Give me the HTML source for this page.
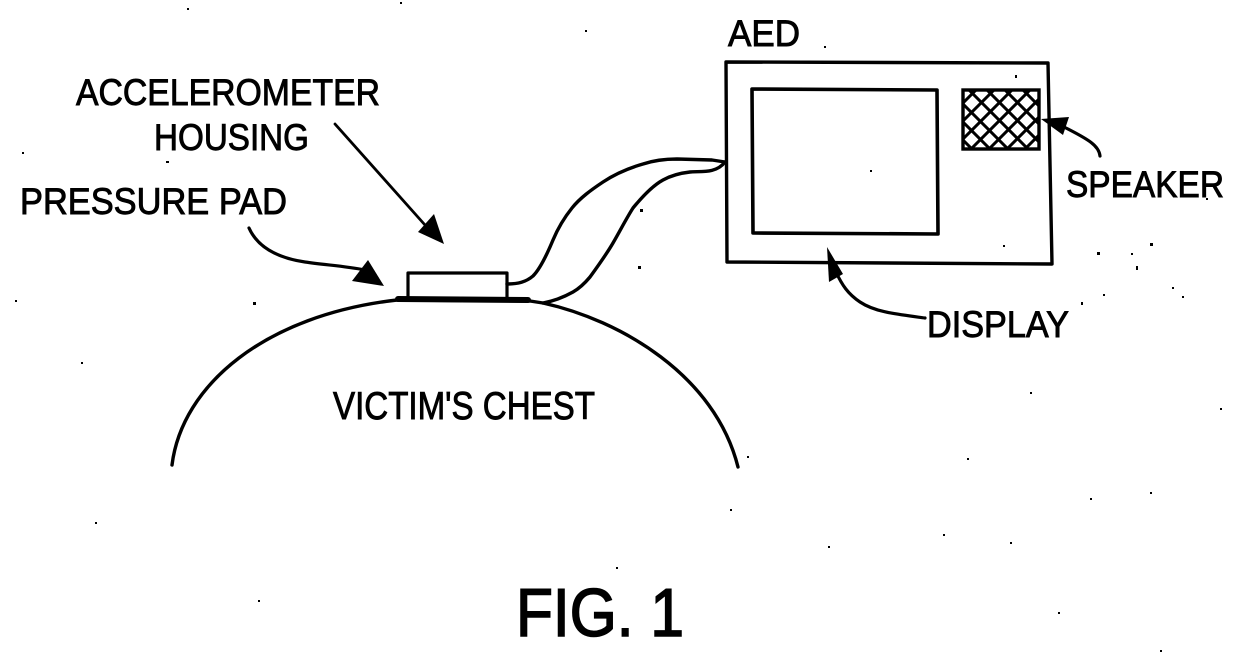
<!DOCTYPE html>
<html><head><meta charset="utf-8"><style>
html,body{margin:0;padding:0;background:#fff}
svg{display:block}
text{font-family:"Liberation Sans",sans-serif;fill:#000;stroke:#000;stroke-width:.9}
.l{fill:none;stroke:#000;stroke-linecap:round;stroke-linejoin:round}
</style></head><body>
<svg width="1240" height="660" viewBox="0 0 1240 660" xmlns="http://www.w3.org/2000/svg">
<rect width="1240" height="660" fill="#fff"/>
<defs><clipPath id="c"><rect x="963" y="90" width="77" height="60"/></clipPath></defs>

<!-- AED -->
<path class="l" stroke-width="3.4" d="M726 62 L1048 63 L1052 264 L727 262 Z"/>
<path class="l" stroke-width="3.6" d="M752 89 L937 90 L938 234 L753 233 Z"/>
<g clip-path="url(#c)" class="l" stroke-width="3">
<path d="M963 104 L1009 150 M963 122 L991 150 M963 140 L973 150 M969 90 L1029 150 M987 90 L1040 143 M1005 90 L1040 125 M1023 90 L1040 107"/>
<path d="M1030 90 L970 150 M1012 90 L963 139 M994 90 L963 121 M976 90 L963 103 M1040 98 L988 150 M1040 116 L1006 150 M1040 134 L1024 150"/>
</g>
<rect x="963" y="90" width="76" height="59" fill="none" stroke="#000" stroke-width="3.4"/>

<!-- Chest -->
<path class="l" stroke-width="3.4" d="M172 465 C182 385 265 315 397 300 L530 301 L543 303 C620 320 715 375 738 467"/>
<path class="l" stroke-width="6" d="M398 299 L528 300"/>

<!-- Accelerometer housing -->
<path class="l" stroke-width="3.2" d="M408 297 L408 273 L507 273 L507 297"/>

<!-- Wires -->
<path class="l" stroke-width="3.4" d="M507 284 C518 284 526 282 533 276 C541 268 548 252 553 240 C558 228 564 218 572 208 C580 198 591 190 603 182 C615 174 629 168 643 164 C655 160 665 159 677 159 L712 160 L725 162"/>
<path class="l" stroke-width="3.4" d="M543 303 C554 301 564 297 573 292 C580 288 585 283 590 277 C598 266 606 255 613 243 C620 231 626 219 633 208 C642 197 652 186 663 180 C672 175 681 173 690 172 C700 171 716 174 725 162"/>

<!-- Leader: accelerometer -->
<path class="l" stroke-width="2.8" d="M335 124 L425 225"/>
<path d="M444 244 L418 232 L434 214 Z" fill="#000"/>
<!-- Leader: pressure pad -->
<path class="l" stroke-width="3.2" d="M249 228 C258 248 278 258 305 262 C325 265 345 266 365 270"/>
<path d="M384 286 L352 281 L368 260 Z" fill="#000"/>
<!-- Leader: display -->
<path class="l" stroke-width="3.2" d="M925 318 C895 314 875 312 860 302 C848 294 842 285 836 272"/>
<path d="M827 247 L843 274 L829 282 Z" fill="#000"/>
<!-- Leader: speaker -->
<path class="l" stroke-width="3.2" d="M1100 156 C1099 146 1090 140 1062 126"/>
<path d="M1041 119 L1069 117 L1063 135 Z" fill="#000"/>

<!-- Labels -->
<text x="76" y="105" font-size="37" textLength="304" lengthAdjust="spacingAndGlyphs">ACCELEROMETER</text>
<text x="154" y="150" font-size="37" textLength="155" lengthAdjust="spacingAndGlyphs">HOUSING</text>
<text x="20" y="214" font-size="37" textLength="267" lengthAdjust="spacingAndGlyphs">PRESSURE PAD</text>
<text x="728" y="46" font-size="37" textLength="72" lengthAdjust="spacingAndGlyphs">AED</text>
<text x="1066" y="197" font-size="37" textLength="158" lengthAdjust="spacingAndGlyphs">SPEAKER</text>
<text x="927" y="337" font-size="37" textLength="142" lengthAdjust="spacingAndGlyphs">DISPLAY</text>
<text x="333" y="419" font-size="39" textLength="262" lengthAdjust="spacingAndGlyphs">VICTIM'S CHEST</text>
<text x="516" y="636" font-size="68" style="stroke-width:1.6" textLength="168" lengthAdjust="spacingAndGlyphs">FIG. 1</text>

<!-- Specks -->
<g fill="#000">
<rect x="1097" y="252" width="3" height="3"/><rect x="1150" y="243" width="3" height="3"/>
<rect x="1136" y="266" width="2" height="4"/><rect x="1131" y="253" width="2" height="2"/>
<rect x="1172" y="287" width="2" height="2"/><rect x="1182" y="296" width="2" height="2"/>
<rect x="1103" y="294" width="2" height="2"/><rect x="1081" y="302" width="2" height="3"/>
<rect x="870" y="170" width="2" height="2"/><rect x="1015" y="75" width="2" height="3"/>
<rect x="1003" y="245" width="2" height="2"/><rect x="824" y="46" width="2" height="2"/>
<rect x="702" y="159" width="2" height="2"/><rect x="640" y="209" width="3" height="3"/>
<rect x="638" y="266" width="3" height="3"/><rect x="253" y="302" width="3" height="3"/>
<rect x="166" y="161" width="3" height="2"/><rect x="22" y="152" width="2" height="2"/>
<rect x="15" y="300" width="2" height="2"/>
<rect x="81" y="362" width="2" height="2"/><rect x="95" y="522" width="2" height="2"/>
<rect x="258" y="600" width="2" height="2"/><rect x="747" y="456" width="2" height="2"/>
<rect x="828" y="546" width="2" height="2"/><rect x="730" y="509" width="2" height="2"/>
<rect x="943" y="534" width="2" height="2"/><rect x="1010" y="542" width="2" height="2"/>
<rect x="1090" y="498" width="2" height="2"/><rect x="1058" y="612" width="2" height="2"/>
<rect x="967" y="458" width="2" height="2"/><rect x="1030" y="392" width="2" height="2"/>
<rect x="1220" y="408" width="2" height="2"/><rect x="1150" y="492" width="2" height="2"/>
<rect x="400" y="2" width="2" height="2"/><rect x="187" y="8" width="2" height="2"/>
<rect x="585" y="30" width="2" height="2"/><rect x="616" y="567" width="2" height="2"/>
<rect x="1206" y="198" width="2" height="2"/><rect x="1160" y="650" width="2" height="2"/>
</g>
</svg>
</body></html>
